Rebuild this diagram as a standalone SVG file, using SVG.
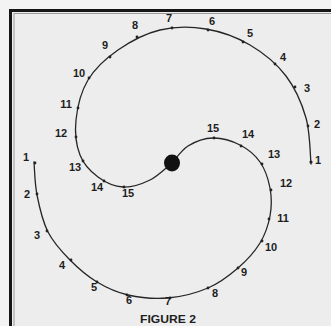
<svg xmlns="http://www.w3.org/2000/svg" width="331" height="326" viewBox="0 0 331 326">
<style>
.frame{stroke:#161616;stroke-width:3;fill:none}
.inner{stroke:#9a9a9a;stroke-width:1;fill:none}
.curve{stroke:#262626;stroke-width:1.3;fill:none;stroke-linecap:round}
.tick{fill:#222}
.num{font-family:"Liberation Sans",Arial,sans-serif;font-weight:bold;font-size:11px;fill:#1e1e1e;text-anchor:middle}
.cap{font-family:"Liberation Sans",Arial,sans-serif;font-weight:bold;font-size:10px;fill:#1e1e1e;text-anchor:middle}
</style>
<rect x="0" y="0" width="331" height="326" fill="#f3f3f3"/>
<rect x="12" y="11" width="319" height="315" fill="#ededed"/>
<g id="frame">
<line class="frame" x1="10.5" y1="9" x2="10.5" y2="326"/>
<line class="frame" x1="9" y1="10.5" x2="331" y2="10.5"/>
<line class="inner" x1="14" y1="13" x2="14" y2="326"/>
<line class="inner" x1="14" y1="13.5" x2="331" y2="13.5"/>
</g>
<g id="connectors">
<path id="upper-spiral" class="curve" d="M311,164 C310.2,156.3 310.2,132.7 306,118 C301.8,103.3 295.3,88.2 286,76 C276.7,63.8 263.3,52.8 250,45 C236.7,37.2 221,31.5 206,29 C191,26.5 174.7,26.5 160,30 C145.3,33.5 130,41.7 118,50 C106,58.3 95,68.3 88,80 C81,91.7 77.3,107.5 76,120 C74.7,132.5 76.3,145.5 80,155 C83.7,164.5 90.8,171.7 98,177 C105.2,182.3 114.3,186.5 123,187 C131.7,187.5 141.8,184 150,180 C158.2,176 168.3,165.8 172,163"/>
<path id="lower-spiral" class="curve" d="M34,162 C34.5,167.5 34.7,183.3 37,195 C39.3,206.7 42.5,221.2 48,232 C53.5,242.8 61.8,251.7 70,260 C78.2,268.3 87.3,276.2 97,282 C106.7,287.8 116.2,292.3 128,295 C139.8,297.7 154.7,299.2 168,298 C181.3,296.8 196.3,293 208,288 C219.7,283 229.3,275.5 238,268 C246.7,260.5 254.7,251.7 260,243 C265.3,234.3 268.3,225.2 270,216 C271.7,206.8 271.7,197 270,188 C268.3,179 265,169.2 260,162 C255,154.8 247.8,149 240,145 C232.2,141 221.7,137.8 213,138 C204.3,138.2 194.8,141.8 188,146 C181.2,150.2 174.7,160.2 172,163"/>
</g>
<g id="ticks">
<circle class="tick" cx="311" cy="162" r="1.6"/><circle class="tick" cx="308" cy="126" r="1.4"/><circle class="tick" cx="295" cy="87" r="1.4"/><circle class="tick" cx="275" cy="64" r="1.4"/><circle class="tick" cx="243" cy="42" r="1.4"/><circle class="tick" cx="208" cy="30" r="1.4"/><circle class="tick" cx="172" cy="28" r="1.4"/><circle class="tick" cx="137" cy="37" r="1.4"/><circle class="tick" cx="110" cy="57" r="1.4"/><circle class="tick" cx="89" cy="78" r="1.4"/><circle class="tick" cx="78" cy="108" r="1.4"/><circle class="tick" cx="76" cy="137" r="1.4"/><circle class="tick" cx="83" cy="161" r="1.4"/><circle class="tick" cx="104" cy="181" r="1.4"/><circle class="tick" cx="124" cy="187" r="1.4"/>
<circle class="tick" cx="35" cy="163" r="1.4"/><circle class="tick" cx="37" cy="194" r="1.4"/><circle class="tick" cx="47" cy="231" r="1.4"/><circle class="tick" cx="71" cy="260" r="1.4"/><circle class="tick" cx="97" cy="282" r="1.4"/><circle class="tick" cx="127" cy="295" r="1.4"/><circle class="tick" cx="170" cy="298" r="1.4"/><circle class="tick" cx="208" cy="288" r="1.4"/><circle class="tick" cx="238" cy="268" r="1.4"/><circle class="tick" cx="262" cy="241" r="1.4"/><circle class="tick" cx="269" cy="219" r="1.4"/><circle class="tick" cx="271" cy="190" r="1.4"/><circle class="tick" cx="262" cy="164" r="1.4"/><circle class="tick" cx="241" cy="146" r="1.4"/><circle class="tick" cx="214" cy="138" r="1.4"/>
</g>
<g id="center-dot"><ellipse cx="172" cy="163" rx="8" ry="8.5" fill="#111"/></g>
<g id="upper-labels">
<text class="num" x="318" y="164">1</text>
<text class="num" x="317" y="128">2</text>
<text class="num" x="307" y="92">3</text>
<text class="num" x="283" y="61">4</text>
<text class="num" x="250" y="37">5</text>
<text class="num" x="212" y="25">6</text>
<text class="num" x="169" y="22">7</text>
<text class="num" x="135" y="29">8</text>
<text class="num" x="105" y="49">9</text>
<text class="num" x="79" y="77">10</text>
<text class="num" x="66" y="108">11</text>
<text class="num" x="61" y="137">12</text>
<text class="num" x="75" y="171">13</text>
<text class="num" x="97" y="191">14</text>
<text class="num" x="128" y="197">15</text>
</g>
<g id="lower-labels">
<text class="num" x="26" y="161">1</text>
<text class="num" x="27" y="198">2</text>
<text class="num" x="37" y="239">3</text>
<text class="num" x="62" y="269">4</text>
<text class="num" x="94" y="291">5</text>
<text class="num" x="129" y="304">6</text>
<text class="num" x="168" y="305">7</text>
<text class="num" x="215" y="297">8</text>
<text class="num" x="244" y="276">9</text>
<text class="num" x="271" y="251">10</text>
<text class="num" x="283" y="222">11</text>
<text class="num" x="286" y="187">12</text>
<text class="num" x="274" y="158">13</text>
<text class="num" x="248" y="138">14</text>
<text class="num" x="213" y="132">15</text>
</g>
<g id="caption"><text class="cap" x="168" y="323" textLength="56" lengthAdjust="spacingAndGlyphs">FIGURE 2</text></g>
</svg>
